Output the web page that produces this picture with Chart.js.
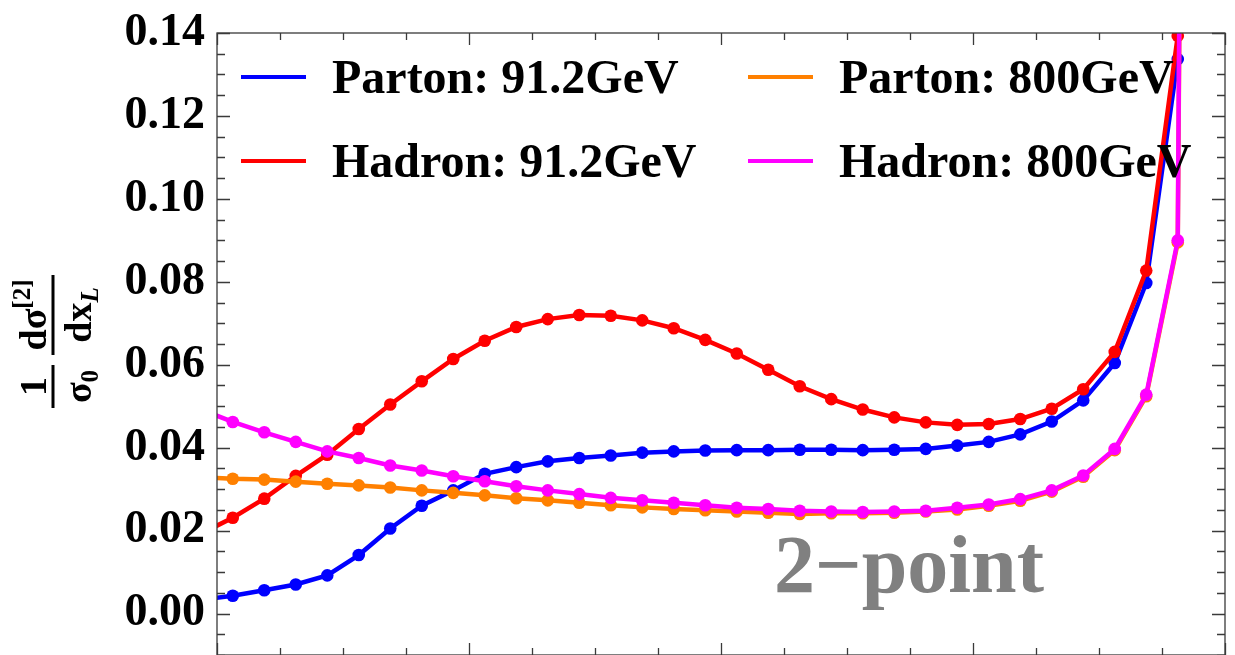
<!DOCTYPE html>
<html>
<head>
<meta charset="utf-8">
<title>2-point distribution</title>
<script src="https://cdn.jsdelivr.net/npm/chart.js@4/dist/chart.umd.min.js"></script>
<style>
  html, body { margin: 0; padding: 0; background: #fff; }
  canvas { display: block; }
</style>
</head>
<body>
<canvas id="c" width="1235" height="655"></canvas>
<script>
// x_L bin centres (32 bins on [0,1], plus one bin either side so the lines run to the frame)
const xBins = [-0.015625, 0.015625, 0.046875, 0.078125, 0.109375, 0.140625, 0.171875, 0.203125,
  0.234375, 0.265625, 0.296875, 0.328125, 0.359375, 0.390625, 0.421875, 0.453125, 0.484375,
  0.515625, 0.546875, 0.578125, 0.609375, 0.640625, 0.671875, 0.703125, 0.734375, 0.765625,
  0.796875, 0.828125, 0.859375, 0.890625, 0.921875, 0.953125, 0.984375];

const parton91 = [0.0033, 0.0043, 0.0056, 0.0070, 0.0092, 0.0141, 0.0205, 0.0260, 0.0297, 0.0337,
  0.0353, 0.0367, 0.0375, 0.0381, 0.0388, 0.0391, 0.0393, 0.0394, 0.0394, 0.0395, 0.0395, 0.0394,
  0.0395, 0.0397, 0.0405, 0.0414, 0.0432, 0.0463, 0.0514, 0.0604, 0.0797, 0.1337, 0.48];

const hadron91 = [0.0193, 0.0231, 0.0277, 0.0332, 0.0383, 0.0445, 0.0504, 0.0560, 0.0614, 0.0658,
  0.0691, 0.0710, 0.0720, 0.0718, 0.0707, 0.0688, 0.0660, 0.0627, 0.0588, 0.0548, 0.0517, 0.0492,
  0.0473, 0.0461, 0.0455, 0.0457, 0.0469, 0.0494, 0.0541, 0.0631, 0.0827, 0.1393, 0.50];

const parton800 = [0.0329, 0.0325, 0.0323, 0.0318, 0.0313, 0.0309, 0.0304, 0.0297, 0.0291, 0.0285,
  0.0278, 0.0273, 0.0267, 0.0261, 0.0256, 0.0252, 0.0249, 0.0246, 0.0243, 0.0240, 0.0242, 0.0242,
  0.0243, 0.0246, 0.0251, 0.0260, 0.0272, 0.0294, 0.0330, 0.0394, 0.0524, 0.0895, 1.10];

const hadron800 = [0.0492, 0.0462, 0.0437, 0.0414, 0.0391, 0.0375, 0.0357, 0.0345, 0.0331, 0.0319,
  0.0307, 0.0297, 0.0288, 0.0279, 0.0273, 0.0267, 0.0261, 0.0255, 0.0252, 0.0248, 0.0246, 0.0245,
  0.0246, 0.0248, 0.0255, 0.0263, 0.0276, 0.0297, 0.0333, 0.0397, 0.0528, 0.0900, 1.20];

const seriesLabels = ['Parton: 91.2GeV', 'Hadron: 91.2GeV', 'Parton: 800GeV', 'Hadron: 800GeV'];
const seriesColors = ['#0000ff', '#ff0000', '#ff8000', '#ff00ff'];

const yTicks = [0.00, 0.02, 0.04, 0.06, 0.08, 0.10, 0.12, 0.14];
const yRange = [-0.01, 0.14];
const xRange = [0, 1];

const panelLabel = '2\u2212point';
const panelLabelAt = { x: 0.6865, y: 0.0051 };

const SERIF = '"Liberation Serif", "Times New Roman", serif';

function pairs(ys) { return ys.map((y, i) => ({ x: xBins[i], y })); }

const allSeries = [parton91, hadron91, parton800, hadron800];
const drawOrder = [3, 2, 1, 0]; // later series are painted on top

const datasets = allSeries.map((ys, k) => ({
  label: seriesLabels[k],
  data: pairs(ys),
  borderColor: seriesColors[k],
  backgroundColor: seriesColors[k],
  pointBackgroundColor: seriesColors[k],
  pointBorderWidth: 0,
  pointRadius: 6.3,
  borderWidth: 4.5,
  tension: 0,
  order: drawOrder[k]
}));

// Frame with inward ticks on all four sides
const framePlugin = {
  id: 'frame',
  afterDatasetsDraw(chart) {
    const { ctx, chartArea: a, scales: { x, y } } = chart;
    ctx.save();
    ctx.strokeStyle = '#3a3a3a';
    ctx.lineWidth = 1.3;
    ctx.strokeRect(a.left, a.top, a.right - a.left, a.bottom - a.top);
    ctx.beginPath();
    for (let k = 0; k <= 16; k++) {
      const v = k / 16;
      const px = Math.round(x.getPixelForValue(v)) + 0.5;
      const len = (k % 4 === 0) ? 12 : 7;
      ctx.moveTo(px, a.top); ctx.lineTo(px, a.top + len);
      ctx.moveTo(px, a.bottom); ctx.lineTo(px, a.bottom - len);
    }
    for (let k = -2; k <= 28; k++) {
      const v = k * 0.005;
      const py = Math.round(y.getPixelForValue(v)) + 0.5;
      const len = (k % 4 === 0) ? 13 : 8;
      ctx.moveTo(a.left, py); ctx.lineTo(a.left + len, py);
      ctx.moveTo(a.right, py); ctx.lineTo(a.right - len, py);
    }
    ctx.stroke();
    ctx.restore();
  }
};

// Two-column legend inside the plot, panel label, and the y-axis title
const annotatePlugin = {
  id: 'annotate',
  afterDraw(chart) {
    const { ctx, chartArea: a, scales: { x, y } } = chart;
    ctx.save();

    // legend
    const colX = [a.left + 24, a.left + 531];
    const rowY = [a.top + 44, a.top + 128];
    ctx.font = 'bold 48px ' + SERIF;
    ctx.textAlign = 'left';
    ctx.textBaseline = 'alphabetic';
    chart.data.datasets.forEach((ds, i) => {
      const cx = colX[Math.floor(i / 2)];
      const cy = rowY[i % 2];
      ctx.strokeStyle = ds.borderColor;
      ctx.lineWidth = 4;
      ctx.beginPath();
      ctx.moveTo(cx, cy); ctx.lineTo(cx + 65, cy);
      ctx.stroke();
      ctx.fillStyle = '#000';
      ctx.fillText(ds.label, cx + 91, cy + 16);
    });

    // panel label
    ctx.font = 'bold 82px ' + SERIF;
    ctx.fillStyle = '#808080';
    ctx.textAlign = 'center';
    ctx.fillText(panelLabel, x.getPixelForValue(panelLabelAt.x), y.getPixelForValue(panelLabelAt.y));

    // y-axis title: (1/σ0) (dσ^[2]/dx_L), read bottom to top
    const big = 'bold 38px ' + SERIF;
    const small = 'bold 25px ' + SERIF;
    const smallIt = 'italic bold 25px ' + SERIF;
    ctx.fillStyle = '#000';
    ctx.translate(53, 408);
    ctx.rotate(-Math.PI / 2);
    ctx.textAlign = 'left';

    function run(parts, centre, base) {
      let w = 0;
      parts.forEach(p => { ctx.font = p.f; w += ctx.measureText(p.t).width; });
      let u = centre - w / 2;
      parts.forEach(p => {
        ctx.font = p.f;
        ctx.fillText(p.t, u, base + (p.dy || 0));
        u += ctx.measureText(p.t).width;
      });
    }
    // first fraction
    ctx.fillRect(0, -1.5, 43, 3);
    run([{ t: '1', f: big }], 21.5, -7);
    run([{ t: '\u03c3', f: big }, { t: '0', f: small, dy: 7 }], 21.5, 38);
    // second fraction
    ctx.fillRect(53, -1.5, 80, 3);
    run([{ t: 'd\u03c3', f: big }, { t: '[2]', f: small, dy: -16 }], 93, -7);
    run([{ t: 'dx', f: big }, { t: 'L', f: smallIt, dy: 7 }], 93, 38);

    ctx.restore();
  }
};

new Chart(document.getElementById('c'), {
  type: 'line',
  data: { datasets },
  options: {
    responsive: false,
    animation: false,
    layout: { autoPadding: false, padding: { left: 0, top: 33, right: 10, bottom: 0 } },
    plugins: { legend: { display: false }, tooltip: { enabled: false } },
    scales: {
      x: {
        type: 'linear',
        min: xRange[0], max: xRange[1],
        display: false
      },
      y: {
        type: 'linear',
        min: yRange[0], max: yRange[1],
        grid: { display: false, drawTicks: false },
        border: { display: false },
        afterBuildTicks: s => { s.ticks = yTicks.map(v => ({ value: v })); },
        afterFit: s => { s.width = 217; s.paddingTop = 0; s.paddingBottom = 0; },
        ticks: {
          padding: 12,
          color: '#000',
          font: { family: SERIF, size: 46, weight: 'bold' },
          callback: v => Number(v).toFixed(2)
        }
      }
    }
  },
  plugins: [framePlugin, annotatePlugin]
});
</script>
</body>
</html>
